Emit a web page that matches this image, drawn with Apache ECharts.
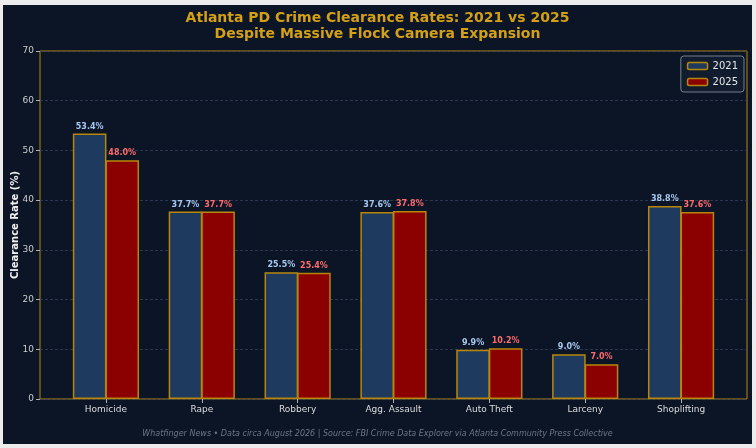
<!DOCTYPE html>
<html>
<head>
<meta charset="utf-8">
<script src="https://cdn.jsdelivr.net/npm/echarts@6/dist/echarts.min.js"></script>
<style>
	html, body { margin: 0; padding: 0; background: #ececec; }
	#chart { position: absolute; left: 3px; top: 5px; width: 749px; height: 439px; background: #0b1526; }
</style>
</head>
<body>
<div id="chart"></div>
<script>
	var categories = ['Homicide', 'Rape', 'Robbery', 'Agg. Assault', 'Auto Theft', 'Larceny', 'Shoplifting'];
	var rates2021 = [53.4, 37.7, 25.5, 37.6, 9.9, 9.0, 38.8];
	var rates2025 = [48.0, 37.7, 25.4, 37.8, 10.2, 7.0, 37.6];
	var yTicks = [0, 10, 20, 30, 40, 50, 60, 70];

	var gold = '#b8860b';
	var font = 'DejaVu Sans';

	var chart = echarts.init(document.getElementById('chart'));

	function pctLabel(color) {
		return {
			show: true,
			position: 'top',
			distance: 3,
			color: color,
			fontSize: 8,
			fontWeight: 'bold',
			fontFamily: font,
			formatter: function(p) { return p.value.toFixed(1) + '%'; }
		};
	}

	var option = {
		backgroundColor: '#0b1526',
		animation: false,
		textStyle: { fontFamily: font },
		title: {
			text: 'Atlanta PD Crime Clearance Rates: 2021 vs 2025\nDespite Massive Flock Camera Expansion',
			left: 'center',
			top: 0,
			textStyle: {
				color: '#d4a017',
				fontSize: 14,
				fontWeight: 'bold',
				fontFamily: font,
				lineHeight: 16,
				align: 'center'
			}
		},
		legend: {
			data: ['2021', '2025'],
			orient: 'vertical',
			right: 8,
			top: 51,
			itemWidth: 20,
			itemHeight: 7,
			itemGap: 6,
			padding: [5, 6, 5, 6],
			backgroundColor: '#111c2e',
			borderColor: '#777f8c',
			borderWidth: 1,
			borderRadius: 3,
			textStyle: { color: '#e6e6e6', fontSize: 10, fontFamily: font },
			itemStyle: { borderColor: gold, borderWidth: 1.5 }
		},
		graphic: [{
			type: 'text',
			left: 'center',
			top: 425,
			style: {
				text: 'Whatfinger News • Data circa August 2026 | Source: FBI Crime Data Explorer via Atlanta Community Press Collective',
				fill: '#6f7785',
				font: 'italic 8px "DejaVu Sans"'
			}
		}],
		grid: [
			{ left: 37, right: 5, top: 46, bottom: 45, outerBoundsMode: 'none', containLabel: false,
				show: true, borderColor: gold, borderWidth: 1, backgroundColor: 'transparent' },
			{ left: 55, right: 23, top: 46, bottom: 45, outerBoundsMode: 'none', containLabel: false }
		],
		xAxis: [{
			gridIndex: 0,
			type: 'value',
			min: 0,
			max: 1,
			show: false
		}, {
			gridIndex: 1,
			type: 'category',
			data: categories,
			axisLine: { show: false },
			axisTick: { show: true, alignWithLabel: true, length: 4, lineStyle: { color: '#b0b0b0' } },
			axisLabel: { color: '#dddddd', fontSize: 9, margin: 6, fontFamily: font }
		}],
		yAxis: [{
			gridIndex: 0,
			type: 'value',
			min: 0,
			max: 70,
			interval: 10,
			name: 'Clearance Rate (%)',
			nameLocation: 'middle',
			nameGap: 20,
			nameMoveOverlap: false,
			nameTextStyle: { color: '#f0f0f0', fontSize: 10, fontWeight: 'bold', fontFamily: font },
			axisLine: { show: false },
			axisTick: { show: true, length: 4, lineStyle: { color: '#b0b0b0' } },
			axisLabel: {
				color: '#cccccc', fontSize: 9, margin: 6, fontFamily: font,
				formatter: function(v) { return yTicks.indexOf(v) >= 0 ? String(v) : ''; }
			},
			splitLine: { show: true, lineStyle: { color: '#34405a', type: [3, 2], width: 0.8 } }
		}, {
			gridIndex: 1,
			type: 'value',
			min: 0,
			max: 70,
			show: false
		}],
		series: [{
			name: '2021',
			type: 'bar',
			xAxisIndex: 1,
			yAxisIndex: 1,
			barWidth: 33.6,
			barGap: '-3%',
			itemStyle: { color: '#1f3a5f', borderColor: gold, borderWidth: 1.5 },
			label: pctLabel('#a8c8f0'),
			data: rates2021
		}, {
			name: '2025',
			type: 'bar',
			xAxisIndex: 1,
			yAxisIndex: 1,
			barWidth: 33.6,
			barGap: '-3%',
			itemStyle: { color: '#8b0000', borderColor: gold, borderWidth: 1.5 },
			label: pctLabel('#ff6b6b'),
			data: rates2025
		}]
	};

	chart.setOption(option);
</script>
</body>
</html>
